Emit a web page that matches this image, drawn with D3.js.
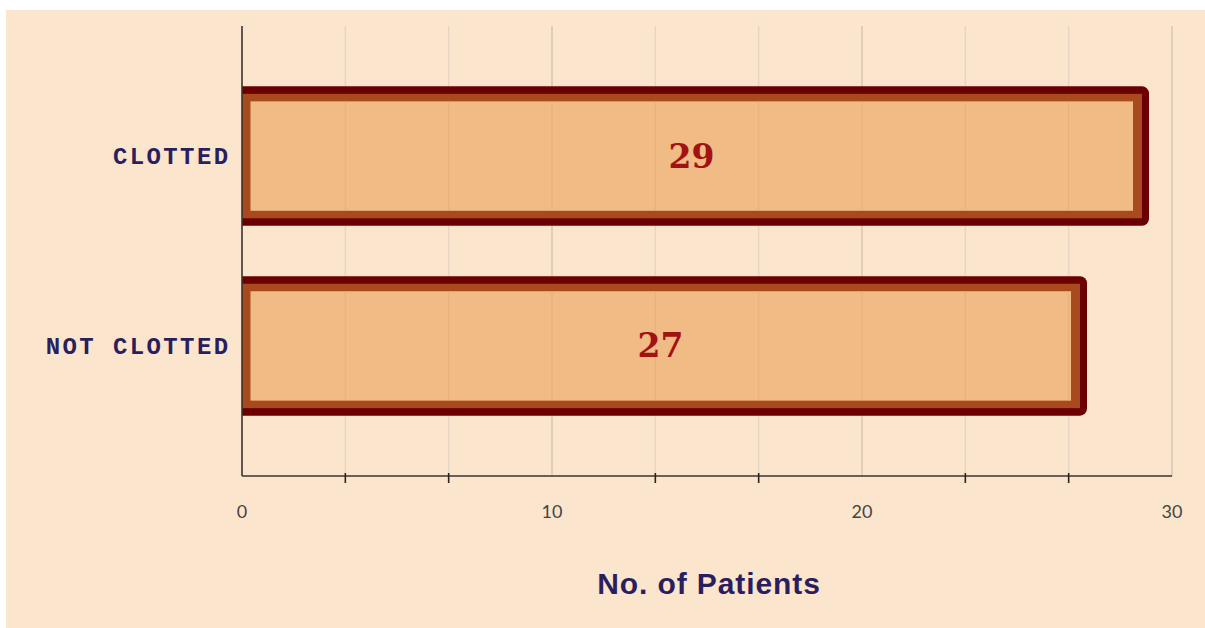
<!DOCTYPE html>
<html>
<head>
<meta charset="utf-8">
<script src="https://cdn.jsdelivr.net/npm/d3@7"></script>
<style>
html,body{margin:0;padding:0;background:#ffffff;}
svg{display:block;}
</style>
</head>
<body>
<svg id="chart" width="1205" height="628"></svg>
<script>
const categories = ["CLOTTED", "NOT CLOTTED"];
const values = [29, 27];
const majorTicks = [0, 10, 20, 30];
const minorTicks = [10/3, 20/3, 40/3, 50/3, 70/3, 80/3];
const xTitle = "No. of Patients";

(function () {
const svg = d3.select("#chart");
svg.append("rect").attr("x", 6).attr("y", 10).attr("width", 1199).attr("height", 618).attr("fill", "#fce5cd");

const mLeft = 242, mRight = 1172, mTop = 26, mBottom = 476;
const x = d3.scaleLinear().domain([0, 30]).range([mLeft, mRight]);
const y = d3.scaleBand().domain(categories).range([mTop, mBottom]).paddingInner(0.35).paddingOuter(0.36);

// gridlines
svg.append("g").selectAll("line").data(minorTicks).join("line")
  .attr("x1", d => x(d)).attr("x2", d => x(d)).attr("y1", mTop).attr("y2", mBottom)
  .attr("stroke", "#e8d6c4").attr("stroke-width", 1.5);
svg.append("g").selectAll("line").data(majorTicks.slice(1)).join("line")
  .attr("x1", d => x(d)).attr("x2", d => x(d)).attr("y1", mTop).attr("y2", mBottom)
  .attr("stroke", "#d8c4b2").attr("stroke-width", 1.5);

// bars
svg.append("defs").append("clipPath").attr("id", "plotclip")
  .append("rect").attr("x", mLeft).attr("y", 0).attr("width", 1205 - mLeft).attr("height", 628);
const bars = svg.append("g").attr("clip-path", "url(#plotclip)");
const rows = categories.map((c, i) => ({c, v: values[i]}));
bars.selectAll("rect.outer").data(rows).join("rect").attr("class", "outer")
  .attr("x", x(0) - 20).attr("y", d => y(d.c) - 8)
  .attr("width", d => x(d.v) - x(0) + 28).attr("height", y.bandwidth() + 16)
  .attr("rx", 7).attr("fill", "#6a0000");
bars.selectAll("rect.mid").data(rows).join("rect").attr("class", "mid")
  .attr("x", x(0) - 20).attr("y", d => y(d.c) - 0.5)
  .attr("width", d => x(d.v) - x(0) + 21).attr("height", y.bandwidth() + 1)
  .attr("fill", "#a9491e");
bars.selectAll("rect.inner").data(rows).join("rect").attr("class", "inner")
  .attr("x", x(0) + 8.5).attr("y", d => y(d.c) + 7)
  .attr("width", d => x(d.v) - x(0) - 16.5).attr("height", y.bandwidth() - 14)
  .attr("fill", "#f0bb84");

// faint gridlines visible through bars
rows.forEach(r => {
  svg.append("g").selectAll("line").data(minorTicks.concat([10, 20]).filter(t => x(t) < x(r.v) - 8)).join("line")
    .attr("x1", d => x(d)).attr("x2", d => x(d))
    .attr("y1", y(r.c) + 7).attr("y2", y(r.c) + y.bandwidth() - 7)
    .attr("stroke", "#e0aa78").attr("stroke-width", 1.2).attr("opacity", 0.5);
});

// value labels
svg.append("g").selectAll("text").data(rows).join("text")
  .attr("x", d => (x(0) + x(d.v)) / 2).attr("y", d => y(d.c) + y.bandwidth() / 2)
  .attr("dy", "0.35em").attr("text-anchor", "middle")
  .attr("font-family", "'DejaVu Serif', 'Liberation Serif', serif").attr("font-weight", "bold")
  .attr("font-size", 33).attr("fill", "#a31212").text(d => d.v);

// axes lines
svg.append("line").attr("x1", mLeft).attr("x2", mLeft).attr("y1", mTop).attr("y2", mBottom)
  .attr("stroke", "#3a3330").attr("stroke-width", 1.6);
svg.append("line").attr("x1", mLeft).attr("x2", mRight).attr("y1", mBottom).attr("y2", mBottom)
  .attr("stroke", "#3a3330").attr("stroke-width", 1.6);
svg.append("g").selectAll("line").data(minorTicks).join("line")
  .attr("x1", d => x(d)).attr("x2", d => x(d)).attr("y1", mBottom - 3).attr("y2", mBottom + 7)
  .attr("stroke", "#2a2420").attr("stroke-width", 1.6);

// tick labels
svg.append("g").selectAll("text").data(majorTicks).join("text")
  .attr("x", d => x(d)).attr("y", 512).attr("dy", "0.35em").attr("text-anchor", "middle")
  .attr("font-family", "Lato, 'Liberation Sans', sans-serif").attr("font-size", 18)
  .attr("fill", "#444").text(d => d);

// category labels
svg.append("g").selectAll("text").data(categories).join("text")
  .attr("x", 230.5).attr("y", d => y(d) + y.bandwidth() / 2).attr("dy", "0.35em")
  .attr("text-anchor", "end")
  .attr("font-family", "'Liberation Mono', 'DejaVu Sans Mono', monospace").attr("font-weight", "bold")
  .attr("font-size", 24).attr("letter-spacing", 2.4).attr("fill", "#2a1f5e").text(d => d);

// axis title
svg.append("text").attr("x", 709).attr("y", 583).attr("dy", "0.35em")
  .attr("text-anchor", "middle")
  .attr("font-family", "'Liberation Sans', Arial, sans-serif").attr("font-weight", "bold")
  .attr("font-size", 30).attr("letter-spacing", 0.9).attr("fill", "#2a1f5e").text(xTitle);
})();
</script>
</body>
</html>
